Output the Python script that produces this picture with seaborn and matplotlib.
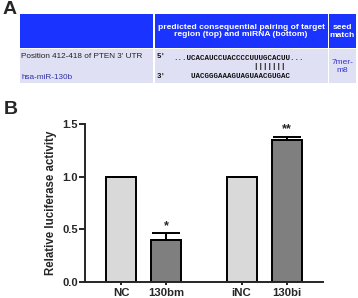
import numpy as np
import pandas as pd
import matplotlib
matplotlib.use("Agg")
import matplotlib.pyplot as plt
from matplotlib.patches import Rectangle
import seaborn as sns

# luciferase data (panel B)
groups = ["mimic", "mimic", "inhibitor", "inhibitor"]
conditions = ["control", "treated", "control", "treated"]
bar_labels = ["NC", "130bm", "iNC", "130bi"]
activity = [1.0, 0.40, 1.0, 1.35]
sem = [0.0, 0.065, 0.0, 0.03]
stars = ["", "*", "", "**"]

# target site table (panel A)
header = ["", "predicted consequential pairing of target\nregion (top) and miRNA (bottom)", "seed\nmatch"]
site_label = "Position 412-418 of PTEN 3' UTR"
mirna_name = "hsa-miR-130b"
target_seq = "...UCACAUCCUACCCCUUUGCACUU..."
pair_line = " " * 18 + "|||||||"
mirna_seq = " " * 4 + "UACGGGAAAGUAGUAACGUGAC"
seed_type = "7mer-\nm8"

sns.set_style("ticks")
plt.rcParams["font.family"] = ["Liberation Sans", "DejaVu Sans"]

W, H = 358, 298
fig = plt.figure(figsize=(W / 100, H / 100), dpi=100)

# ---- panel A: drawn in pixel coordinates ----
ov = fig.add_axes([0, 0, 1, 1])
ov.set_xlim(0, W)
ov.set_ylim(H, 0)
ov.axis("off")
ov.patch.set_visible(False)

blue = "#1a33ff"
lav = "#e0e0f5"
cols = [(20, 153), (154.5, 327.5), (329, 356)]
for x0, x1 in cols:
    ov.add_patch(Rectangle((x0, 14), x1 - x0, 33.5, color=blue, lw=0))
    ov.add_patch(Rectangle((x0, 49), x1 - x0, 34, color=lav, lw=0))

ov.text(3, 9, "A", fontsize=14, fontweight="bold", va="center", ha="left")
ov.text(241, 31, header[1], color="white", fontsize=6.1, fontweight="bold",
        ha="center", va="center", linespacing=1.05)
ov.text(342.5, 31.5, header[2], color="white", fontsize=6.1, fontweight="bold",
        ha="center", va="center", linespacing=1.15)
ov.text(21, 57, site_label, fontsize=5.9, va="center", ha="left", color="#222222")
ov.text(21, 77.5, mirna_name, fontsize=5.9, va="center", ha="left", color="#3030a8")
mono = dict(family="Liberation Mono", fontsize=5.45, va="center", ha="left",
            color="#111111", fontweight="bold")
ov.text(157, 57, "5'", **mono)
ov.text(157, 77, "3'", **mono)
ov.text(173, 58, target_seq, **mono)
ov.text(173, 66, pair_line, **mono)
ov.text(173, 77, mirna_seq, **mono)
ov.text(342.5, 66.5, seed_type, fontsize=6.0, color="#3333cc", ha="center", va="center",
        linespacing=1.1)
ov.text(4, 109, "B", fontsize=14, fontweight="bold", va="center", ha="left")

# ---- panel B: bar chart ----
ax = fig.add_axes([85 / W, 1 - 282 / H, (323 - 85) / W, (282 - 124) / H])
ax.patch.set_visible(False)
df = pd.DataFrame({"group": groups, "condition": conditions, "activity": activity})
sns.barplot(data=df, x="group", y="activity", hue="condition",
            order=["mimic", "inhibitor"], hue_order=["control", "treated"],
            palette={"control": "#d9d9d9", "treated": "#7f7f7f"},
            width=0.75, gap=1 / 3, edgecolor="black", linewidth=1.4,
            legend=False, errorbar=None, ax=ax)

bars = sorted([p for p in ax.patches if p.get_height() > 0], key=lambda p: p.get_x())
centers = [p.get_x() + p.get_width() / 2 for p in bars]
ax.errorbar(centers, activity, yerr=[np.zeros(len(sem)), sem], fmt="none",
            ecolor="black", elinewidth=1.4, capsize=10, capthick=1.4, zorder=1)
for c, v, e, s in zip(centers, activity, sem, stars):
    if s:
        ax.text(c, v + e + 0.01, s, ha="center", va="bottom", fontsize=9, fontweight="bold")

ax.set_xlim(-0.49, 1.49)
ax.set_ylim(0, 1.5)
ax.set_yticks([0, 0.5, 1.0, 1.5])
ax.set_yticklabels(["0.0", "0.5", "1.0", "1.5"])
ax.set_xticks(centers)
ax.set_xticklabels(bar_labels)
ax.set_xlabel("")
ax.set_ylabel("Relative luciferase activity", fontsize=8.3, fontweight="bold", labelpad=4)
sns.despine(ax=ax)
for sp in ("left", "bottom"):
    ax.spines[sp].set_linewidth(1.4)
ax.tick_params(axis="y", labelsize=8, width=1.4, length=4, pad=1)
ax.tick_params(axis="x", labelsize=8.2, width=1.4, length=2.5, pad=1.5)
for lab in ax.get_xticklabels() + ax.get_yticklabels():
    lab.set_fontweight("bold")

fig.savefig("out.png", dpi=100)
